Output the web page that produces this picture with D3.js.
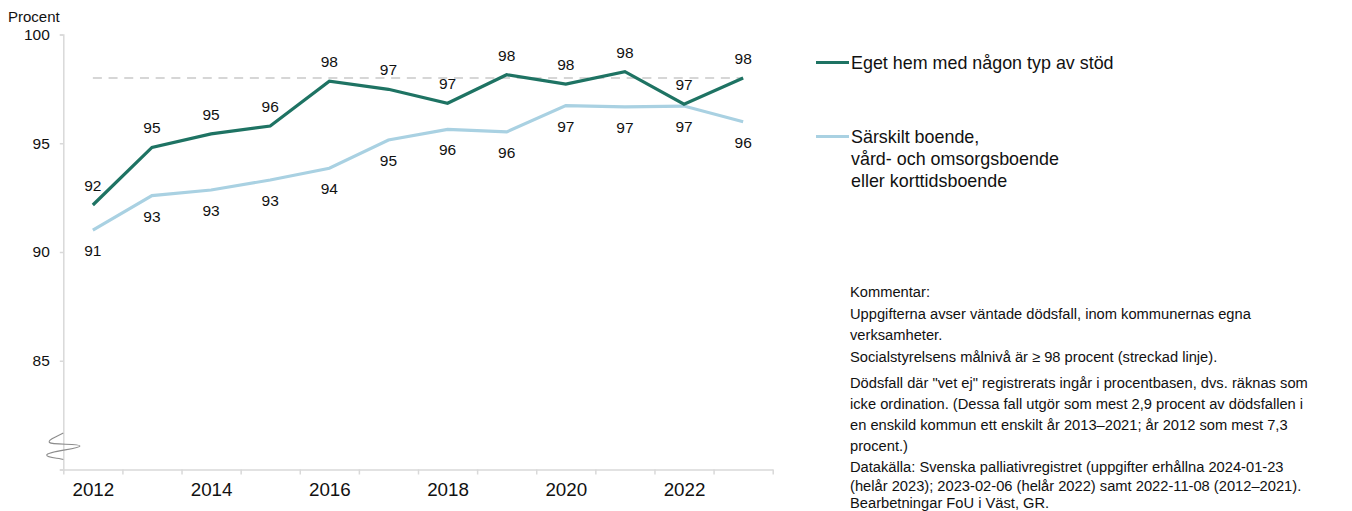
<!DOCTYPE html>
<html><head><meta charset="utf-8">
<script src="https://cdn.jsdelivr.net/npm/d3@7"></script>
<style>
html,body{margin:0;padding:0;background:#fff;}
svg{display:block;font-family:"Liberation Sans",Arial,sans-serif;}
</style></head>
<body>
<svg id="c" width="1352" height="511"></svg>
<script>
const years = [2012,2013,2014,2015,2016,2017,2018,2019,2020,2021,2022,2023];
const egetHem = [92.16,94.81,95.43,95.79,97.85,97.48,96.84,98.15,97.72,98.29,96.8,98.0];
const sarskilt = [91.01,92.59,92.85,93.31,93.85,95.15,95.64,95.52,96.73,96.67,96.71,95.99];
const targetLevel = 98;
const yTicks = [80,85,90,95,100];
const xLabelYears = [2012,2014,2016,2018,2020,2022];
const seriesNames = ["Eget hem med någon typ av stöd", ["Särskilt boende,","vård- och omsorgsboende","eller korttidsboende"]];
const notes = [
  ["Kommentar:"],
  ["Uppgifterna avser väntade dödsfall, inom kommunernas egna","verksamheter."],
  ["Socialstyrelsens målnivå är ≥ 98 procent (streckad linje)."],
  ["Dödsfall där \"vet ej\" registrerats ingår i procentbasen, dvs. räknas som","icke ordination. (Dessa fall utgör som mest 2,9 procent av dödsfallen i","en enskild kommun ett enskilt år 2013–2021; år 2012 som mest 7,3","procent.)"],
  ["Datakälla: Svenska palliativregistret (uppgifter erhållna 2024-01-23","(helår 2023); 2023-02-06 (helår 2022) samt 2022-11-08 (2012–2021).","Bearbetningar FoU i Väst, GR."]
];

const svg = d3.select("#c");
const dark = "#1e7363", light = "#a9d1e2", axisCol = "#d9d9d9";

const x = d3.scaleLinear().domain([2011.5, 2023.5]).range([63.3, 772.7]);
const y = d3.scaleLinear().domain([80, 100]).range([469.5, 34.5]);

// y axis
const ya = svg.append("g").attr("transform","translate(63.3,0)")
  .call(d3.axisLeft(y).tickValues(yTicks).tickSize(3.5).tickPadding(10)
    .tickFormat(d => d === 80 ? "" : d));
ya.select(".domain").attr("stroke", axisCol).attr("stroke-width",1.5);
ya.selectAll(".tick line").attr("stroke", axisCol).attr("stroke-width",1.5);
ya.selectAll(".tick text").attr("font-size","15.5px").attr("fill","#111").attr("font-family","inherit");

// x axis (boundaries)
const bounds = d3.range(2011.5, 2024, 1);
const xa = svg.append("g").attr("transform","translate(0,469.5)")
  .call(d3.axisBottom(x).tickValues(bounds).tickSize(5).tickSizeOuter(0).tickFormat(""));
xa.select(".domain").attr("stroke", axisCol).attr("stroke-width",1.5);
xa.selectAll(".tick line").attr("stroke", axisCol).attr("stroke-width",1.5);
const xl = svg.append("g").attr("transform","translate(0,469.5)")
  .call(d3.axisBottom(x).tickValues(xLabelYears).tickSize(0).tickPadding(13).tickFormat(d3.format("d")));
xl.select(".domain").remove();
xl.selectAll(".tick text").attr("font-size","18.8px").attr("fill","#111").attr("font-family","inherit");

// axis title
svg.append("text").attr("x",8).attr("y",22).attr("font-size","15px").attr("fill","#111").text("Procent");

// break symbol
svg.append("path")
  .attr("d","M63.3,433 C58,436 47,440 49.5,442.5 C52,445 80,443.5 80,446 C80,449 47,451 46.7,455 C46.5,458 60,458 63.3,459.5")
  .attr("fill","none").attr("stroke","#8c8c8c").attr("stroke-width",1.1);

// target line
svg.append("line").attr("x1",x(years[0])).attr("x2",x(years[years.length-1]))
  .attr("y1",y(targetLevel)).attr("y2",y(targetLevel))
  .attr("stroke","#d6d6d6").attr("stroke-width",2).attr("stroke-dasharray","9,6.7");

const line = d3.line().x((d,i)=>x(years[i])).y(d=>y(d));
svg.append("path").datum(sarskilt).attr("d",line).attr("fill","none").attr("stroke",light).attr("stroke-width",3.2);
svg.append("path").datum(egetHem).attr("d",line).attr("fill","none").attr("stroke",dark).attr("stroke-width",3.2);

// data labels
svg.append("g").selectAll("text").data(egetHem).join("text")
  .attr("x",(d,i)=>x(years[i])).attr("y",d=>y(d)-19.5).attr("dy","0.35em")
  .attr("text-anchor","middle").attr("font-size","15.5px").attr("fill","#111")
  .text(d=>Math.round(d));
svg.append("g").selectAll("text").data(sarskilt).join("text")
  .attr("x",(d,i)=>x(years[i])).attr("y",d=>y(d)+20.5).attr("dy","0.35em")
  .attr("text-anchor","middle").attr("font-size","15.5px").attr("fill","#111")
  .text(d=>Math.round(d));

// legend
const lg = svg.append("g");
lg.append("line").attr("x1",816).attr("x2",849).attr("y1",62.5).attr("y2",62.5).attr("stroke",dark).attr("stroke-width",3.2);
lg.append("text").attr("x",851).attr("y",68.5).attr("font-size","17.9px").attr("fill","#111").text(seriesNames[0]);
lg.append("line").attr("x1",816).attr("x2",849).attr("y1",136.5).attr("y2",136.5).attr("stroke",light).attr("stroke-width",3.2);
lg.append("text").attr("font-size","17.9px").attr("fill","#111")
  .selectAll("tspan").data(seriesNames[1]).join("tspan")
  .attr("x",851).attr("y",(d,i)=>142.5+i*22).text(d=>d);

// notes
const noteY = [[296.5],[319,340],[362],[388,409,430,451],[471.5,491,508]];
const ng = svg.append("g").attr("font-size","14.7px").attr("fill","#111");
notes.forEach((p,pi)=>p.forEach((t,li)=>{
  ng.append("text").attr("x",850).attr("y",noteY[pi][li]).text(t);
}));
</script>
</body></html>
